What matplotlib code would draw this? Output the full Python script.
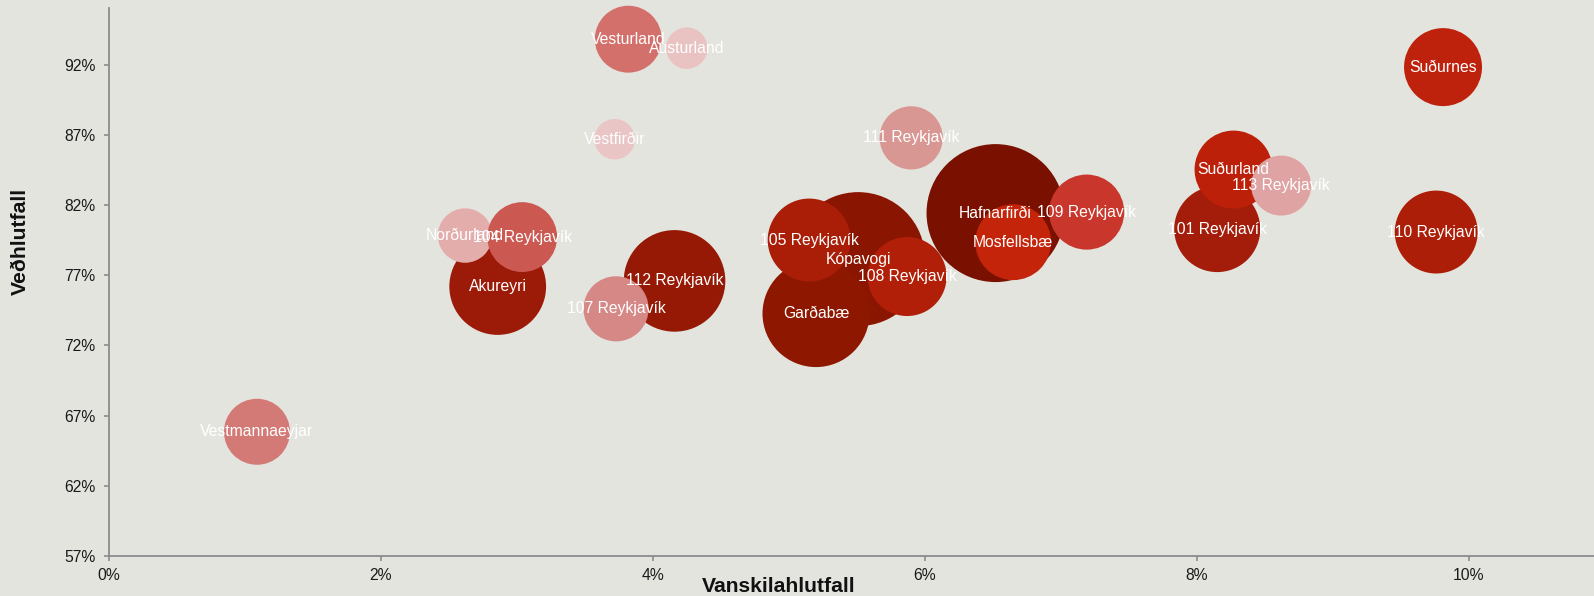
import matplotlib
matplotlib.use("Agg")
import matplotlib.pyplot as plt
from matplotlib.ticker import FuncFormatter

# ---- data -------------------------------------------------------------
svaedi = ["Kópavogi", "Garðabæ", "105 Reykjavík", "108 Reykjavík",
          "Hafnarfirði", "Mosfellsbæ", "109 Reykjavík",
          "Akureyri", "Norðurland", "104 Reykjavík",
          "112 Reykjavík", "107 Reykjavík",
          "101 Reykjavík", "Suðurland", "113 Reykjavík",
          "Vesturland", "Austurland", "Vestfirðir", "111 Reykjavík",
          "Suðurnes", "110 Reykjavík", "Vestmannaeyjar"]
vanskilahlutfall = [0.0551, 0.0520, 0.0515, 0.0587,
                    0.0652, 0.0665, 0.0719,
                    0.0286, 0.0262, 0.0304,
                    0.0416, 0.0373,
                    0.0815, 0.0827, 0.0862,
                    0.0382, 0.0425, 0.0372, 0.0590,
                    0.0981, 0.0976, 0.0109]
vedhlutfall = [0.7815, 0.7427, 0.7951, 0.7691,
               0.8143, 0.7936, 0.8150,
               0.7620, 0.7983, 0.7972,
               0.7660, 0.7461,
               0.8029, 0.8453, 0.8339,
               0.9382, 0.9318, 0.8669, 0.8679,
               0.9183, 0.8008, 0.6585]
umfang = [449, 286, 172, 156,
          476, 144, 141,
          234, 74, 122,
          258, 106,
          185, 152, 90,
          112, 43, 41, 100,
          152, 172, 109]
litir = ["#8a1500", "#8e1700", "#aa1e08", "#b21f08",
         "#7a1100", "#c4240a", "#c9372c",
         "#9c1a08", "#e3adac", "#cc5852",
         "#961906", "#d68886",
         "#a41c0a", "#bd2009", "#dea3a2",
         "#d4706b", "#e9c3c2", "#e9c5c5", "#d99794",
         "#bf220c", "#ad1e08", "#d47a76"]
x_ticks = [0.0, 0.02, 0.04, 0.06, 0.08, 0.10]
y_ticks = [0.57, 0.62, 0.67, 0.72, 0.77, 0.82, 0.87, 0.92]

# ---- figure -----------------------------------------------------------
plt.rcParams["font.family"] = ["Liberation Sans", "DejaVu Sans"]
BG = "#e4e4df"
fig = plt.figure(figsize=(15.94, 5.96), dpi=100, facecolor=BG)
ax = fig.add_axes([108.7 / 1594, 1 - 556 / 596, 1 - 108.7 / 1594, (556 - 8.3) / 596])
ax.set_facecolor(BG)

size_scale = 20.736
ax.scatter(vanskilahlutfall, vedhlutfall, s=[u * size_scale for u in umfang],
           c=litir, linewidths=0, zorder=2, clip_on=False)
for name, xv, yv in zip(svaedi, vanskilahlutfall, vedhlutfall):
    ax.text(xv, yv, name, color="white", fontsize=11.3, ha="center",
            va="center", zorder=3)

ax.set_xlim(0, 0.1092)
ax.set_ylim(0.57, 0.9602)
ax.set_xticks(x_ticks)
ax.set_yticks(y_ticks)
ax.xaxis.set_major_formatter(FuncFormatter(lambda v, p: f"{v*100:.0f}%"))
ax.yaxis.set_major_formatter(FuncFormatter(lambda v, p: f"{v*100:.0f}%"))

for s in ["top", "right"]:
    ax.spines[s].set_visible(False)
for s in ["left", "bottom"]:
    ax.spines[s].set_color("#8c8c8c")
    ax.spines[s].set_linewidth(1.3)
ax.tick_params(axis="both", colors="#8c8c8c", length=3.5, width=1.2,
               labelcolor="#1a1a1a", labelsize=11.3)
ax.tick_params(axis="y", pad=6)
ax.tick_params(axis="x", pad=5)

ax.set_xlabel("Vanskilahlutfall", fontsize=15.2, fontweight="bold",
              color="#111111", va="baseline")
ax.xaxis.set_label_coords(0.451, -0.0657)
ax.set_ylabel("Veðhlutfall", fontsize=15.2, fontweight="bold",
              color="#111111", va="center")
ax.yaxis.set_label_coords(-0.0597, 0.574)

fig.savefig("out.png", dpi=100, facecolor=BG)
